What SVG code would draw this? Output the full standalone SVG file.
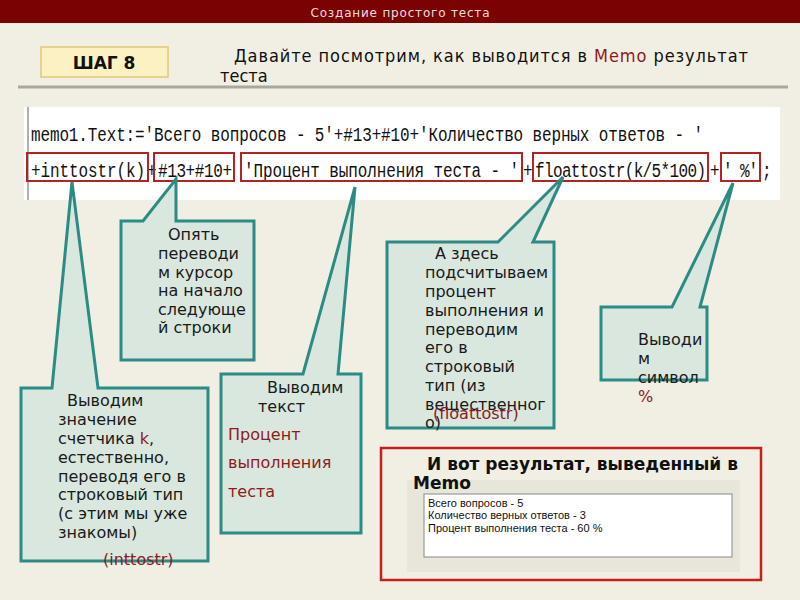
<svg xmlns="http://www.w3.org/2000/svg" width="800" height="600" viewBox="0 0 800 600">
<style>
.bg{fill:#f1efe3}
.co{fill:#d9e7df;stroke:#2b8c85;stroke-width:3;stroke-linejoin:miter}
.ct{font-family:"DejaVu Sans",sans-serif;font-size:16px;fill:#1a1a1a}
.red{fill:#8e1b1b}
.code{font-family:"Liberation Mono","Courier New",monospace;font-size:16px;fill:#111}
.cb{fill:none;stroke:#b52222;stroke-width:2}
.memo{font-family:"Liberation Sans",Arial,sans-serif;font-size:11px;fill:#111}
</style>
<rect class="bg" x="0" y="0" width="800" height="600"/>
<g id="header">
<rect x="0" y="0" width="800" height="23" fill="#7b0202"/>
<text x="400" y="17" text-anchor="middle" font-family="DejaVu Sans,sans-serif" font-size="12" fill="#f0dede" textLength="179">Создание простого теста</text>
</g>
<g id="step">
<rect x="41" y="47" width="127" height="30" fill="#fbf1c2" stroke="#e4c878" stroke-width="1.5"/>
<text x="104" y="69" text-anchor="middle" font-family="DejaVu Sans,sans-serif" font-size="17" font-weight="bold" fill="#111">ШАГ 8</text>
</g>
<g id="title" font-family="DejaVu Sans Condensed,DejaVu Sans,sans-serif" font-size="18" fill="#111">
<text x="234" y="62" textLength="514">Давайте посмотрим, как выводится в <tspan fill="#8e1b1b">Memo</tspan> результат</text>
<text x="220" y="82">теста</text>
</g>
<line x1="18" y1="87" x2="788" y2="87" stroke="#a9a8a0" stroke-width="3"/>
<g id="code">
<rect x="24" y="107" width="756" height="93" fill="#ffffff"/>
<line x1="28" y1="107" x2="28" y2="200" stroke="#b0b0b0" stroke-width="2"/>
<g transform="translate(0,141) scale(1,1.3)">
<text class="code" x="31" y="0" textLength="672" xml:space="preserve">memo1.Text:='Всего вопросов - 5'+#13+#10+'Количество верных ответов - '</text>
</g>
<g transform="translate(0,177) scale(1,1.3)">
<text class="code" x="31" y="0" textLength="114">+inttostr(k)</text>
<text class="code" x="147" y="0">+</text>
<text class="code" x="158" y="0" textLength="74">#13+#10+</text>
<text class="code" x="244" y="0" textLength="275" xml:space="preserve">'Процент выполнения теста - '</text>
<text class="code" x="523" y="0">+</text>
<text class="code" x="535" y="0" textLength="171">floattostr(k/5*100)</text>
<text class="code" x="710" y="0">+</text>
<text class="code" x="723" y="0" textLength="35" xml:space="preserve">' %'</text>
<text class="code" x="762" y="0">;</text>
</g>
<rect class="cb" x="27" y="153" width="121" height="28"/>
<rect class="cb" x="154" y="153" width="80" height="28"/>
<rect class="cb" x="241" y="153" width="281" height="28"/>
<rect class="cb" x="533" y="153" width="175" height="28"/>
<rect class="cb" x="721" y="153" width="39" height="28"/>
</g>
<g id="connectors"></g>
<g id="callout-inttostr">
<polygon class="co" points="21,388 52,388 72,182 98,388 208,388 208,561 21,561"/>
<text class="ct" x="67" y="406">Выводим</text>
<text class="ct" x="58" y="425">значение</text>
<text class="ct" x="58" y="444">счетчика <tspan class="red">k</tspan>,</text>
<text class="ct" x="58" y="463">естественно,</text>
<text class="ct" x="58" y="482">переводя его в</text>
<text class="ct" x="58" y="500">строковый тип</text>
<text class="ct" x="58" y="519">(с этим мы уже</text>
<text class="ct" x="58" y="538">знакомы)</text>
<text class="ct red" x="103" y="565">(inttostr)</text>
</g>
<g id="callout-newline">
<polygon class="co" points="121,221 143,221 176,179 176,221 254,221 254,360 121,360"/>
<text class="ct" x="168" y="240">Опять</text>
<text class="ct" x="158" y="259">переводи</text>
<text class="ct" x="158" y="278">м курсор</text>
<text class="ct" x="158" y="296">на начало</text>
<text class="ct" x="158" y="315">следующе</text>
<text class="ct" x="158" y="333">й строки</text>
</g>
<g id="callout-text">
<polygon class="co" points="221,374 303,374 355,187 338,374 361,374 361,533 221,533"/>
<text class="ct" x="267" y="393">Выводим</text>
<text class="ct" x="258" y="412">текст</text>
<text class="ct red" x="228" y="440">Процент</text>
<text class="ct red" x="228" y="468">выполнения</text>
<text class="ct red" x="228" y="497">теста</text>
</g>
<g id="callout-float">
<polygon class="co" points="387,242 498,242 563,177 533,242 554,242 554,428 387,428"/>
<text class="ct" x="435" y="259">А здесь</text>
<text class="ct" x="425" y="278">подсчитываем</text>
<text class="ct" x="425" y="297">процент</text>
<text class="ct" x="425" y="316">выполнения и</text>
<text class="ct" x="425" y="335">переводим</text>
<text class="ct" x="425" y="353">его в</text>
<text class="ct" x="425" y="372">строковый</text>
<text class="ct" x="425" y="391">тип (из</text>
<text class="ct" x="425" y="410">вещественног</text>
<text class="ct" x="425" y="428">о)</text>
<text class="ct red" x="433" y="419">(floattostr)</text>
</g>
<g id="callout-percent">
<polygon class="co" points="601,307 672,307 733,183 700,307 707,307 707,380 601,380"/>
<text class="ct" x="638" y="345">Выводи</text>
<text class="ct" x="638" y="364">м</text>
<text class="ct" x="638" y="383">символ</text>
<text class="ct red" x="638" y="402">%</text>
</g>
<g id="result">
<rect x="381" y="448" width="380" height="132" fill="none" stroke="#c41e1e" stroke-width="2.5"/>
<rect x="407" y="480" width="333" height="92" fill="#e8e6da"/>
<rect x="424" y="494" width="308" height="63" fill="#ffffff" stroke="#9a9a9a" stroke-width="1.2"/>
<text x="427" y="470" font-family="DejaVu Sans,sans-serif" font-size="17" font-weight="bold" fill="#111">И вот результат, выведенный в</text>
<text x="413" y="489" font-family="DejaVu Sans,sans-serif" font-size="17" font-weight="bold" fill="#111">Memo</text>
<text class="memo" x="428" y="507">Всего вопросов - 5</text>
<text class="memo" x="428" y="519">Количество верных ответов - 3</text>
<text class="memo" x="428" y="532">Процент выполнения теста - 60 %</text>
</g>
</svg>
